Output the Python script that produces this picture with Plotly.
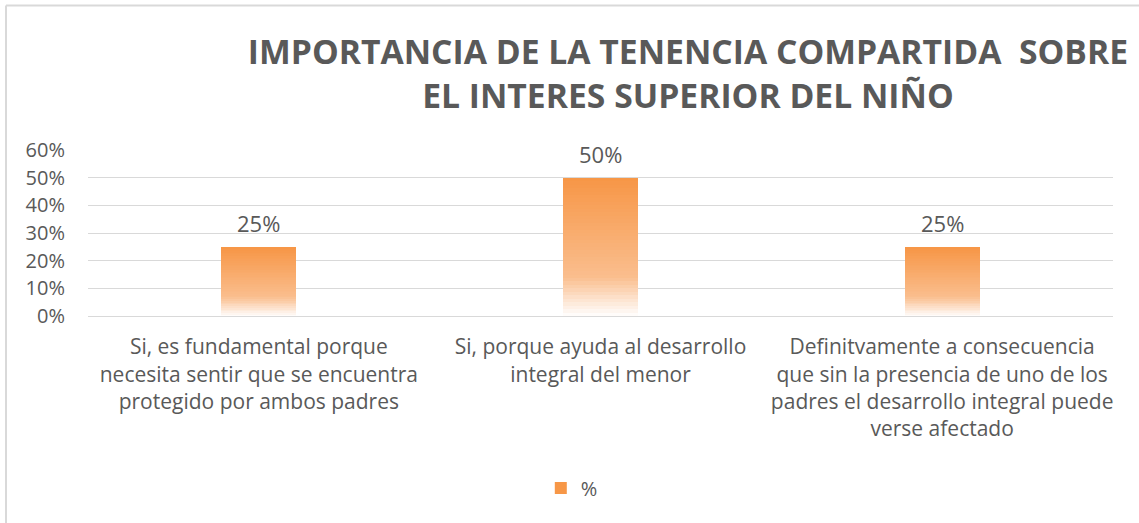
import plotly.graph_objects as go

# chart data
categories = [
    "Si, es fundamental porque<br>necesita sentir que se encuentra<br>protegido por ambos padres",
    "Si, porque ayuda al desarrollo<br>integral del menor",
    "Definitvamente a consecuencia<br>que sin la presencia de uno de los<br>padres el desarrollo integral puede<br>verse afectado",
]
values = [0.25, 0.50, 0.25]
series_name = "%"
tick_vals = [0, 0.1, 0.2, 0.3, 0.4, 0.5, 0.6]
tick_text = ["0%", "10%", "20%", "30%", "40%", "50%", "60%"]

title = "IMPORTANCIA DE LA TENENCIA COMPARTIDA  SOBRE<br>EL INTERES SUPERIOR DEL NIÑO"

GRAY = "#595959"
FONT = "Open Sans"

# gradient fill (excel style) -> the bar is split into thin stacked slices
N_SLICES = 40
stops = [(0.0, (247, 150, 70)), (0.72, (250, 190, 142)), (1.0, (255, 255, 255))]


def grad_color(t):
    # t = 0 at top of the bar, 1 at the bottom
    for (t0, c0), (t1, c1) in zip(stops[:-1], stops[1:]):
        if t0 <= t <= t1:
            f = (t - t0) / (t1 - t0)
            c = [round(a + (b - a) * f) for a, b in zip(c0, c1)]
            return "rgb(%d,%d,%d)" % tuple(c)
    return "rgb(255,255,255)"


fig = go.Figure()
for i in range(N_SLICES):
    t = 1 - (i + 0.5) / N_SLICES
    top = i == N_SLICES - 1
    fig.add_trace(go.Bar(
        x=categories,
        y=[v / N_SLICES for v in values],
        base=[v * i / N_SLICES for v in values],
        width=0.22,
        marker=dict(color=grad_color(t), line=dict(width=0)),
        name=series_name,
        showlegend=top,
        hoverinfo="skip" if not top else None,
    ))

# data labels
for c, v in zip(categories, values):
    fig.add_annotation(x=c, y=v, text=f"{v:.0%}", showarrow=False,
                       yanchor="bottom", yshift=7,
                       font=dict(family=FONT, size=22, color=GRAY))

fig.update_layout(
    width=1139, height=523,
    barmode="overlay",
    bargap=0,
    plot_bgcolor="white", paper_bgcolor="white",
    margin=dict(l=88, r=26, t=150, b=207, autoexpand=False),
    font=dict(family=FONT, size=18, color=GRAY),
    title=dict(text="<b>" + title + "</b>", x=0.604, xanchor="center",
               y=0.878, yanchor="middle",
               font=dict(family=FONT, size=33.7, color=GRAY)),
    legend=dict(orientation="h", x=0.472, xanchor="center", y=-1.036,
                yanchor="middle", font=dict(family=FONT, size=20, color=GRAY)),
    showlegend=True,
)
fig.update_yaxes(range=[0, 0.6], tickvals=tick_vals, ticktext=tick_text,
                 showgrid=True, gridcolor="#d9d9d9", gridwidth=1,
                 zeroline=False, showline=False, ticks="",
                 ticklabelstandoff=22, tickfont=dict(size=20, color=GRAY))
fig.update_xaxes(showgrid=False, showline=True, linecolor="#d9d9d9",
                 linewidth=1, ticks="", ticklabelstandoff=12,
                 tickfont=dict(size=21, color=GRAY))

# outer chart border (only left and top edges are visible in the picture)
fig.add_shape(type="line", xref="paper", yref="paper",
              x0=-0.08, x1=1.05, y0=1.87, y1=1.87,
              line=dict(color="#d9d9d9", width=2))
fig.add_shape(type="line", xref="paper", yref="paper",
              x0=-0.08, x1=-0.08, y0=1.87, y1=-1.4,
              line=dict(color="#d9d9d9", width=2))

# drop the default 8px page margin so the figure sits at the window corner
fig.write_html("out.html", config={"displayModeBar": False},
               post_script="document.body.style.margin='0';")
